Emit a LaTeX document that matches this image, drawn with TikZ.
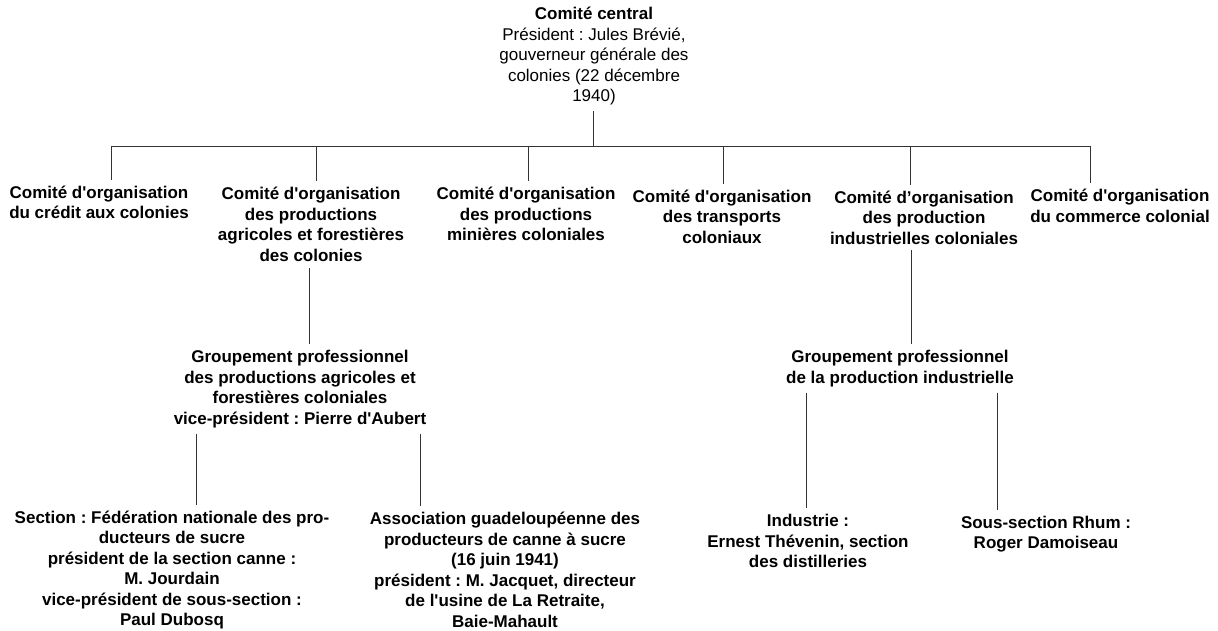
\documentclass[tikz,border=0pt]{standalone}
\usepackage{fontspec}
\setmainfont{Liberation Sans}[Ligatures=TeXOff]
\frenchspacing
\usetikzlibrary{positioning}
\tikzset{x=1pt, y=-1pt, % one unit is one pixel of the chart
every node/.style={ % Sets the properties for each text block
align=center,
inner sep=0pt,
outer sep=6pt,
font=\bfseries\fontsize{17}{20.5}\selectfont},
link/.style={ % Sets the properties for each connector
draw, black!80, line width=0.8pt}}

\begin{document}
\begin{tikzpicture}
    \useasboundingbox (0,0) rectangle (1218,631);

    \node[font=\mdseries\fontsize{17}{20.5}\selectfont] (cc) at (594,56.5) {\textbf{Comité central}\\Président : Jules Brévié,\\gouverneur générale des\\colonies (22 décembre\\1940)};

    \node (credit) at (99,202.5) {Comité d'organisation\\du crédit aux colonies};
    \node (agri) at (311,224.5) {Comité d'organisation\\des productions\\agricoles et forestières\\des colonies};
    \node (mines) at (526,214) {Comité d'organisation\\des productions\\minières coloniales};
    \node (transp) at (722,216.5) {Comité d'organisation\\des transports\\coloniaux};
    \node (indus) at (924,217.5) {Comité d’organisation\\des production\\industrielles coloniales};
    \node (comm) at (1120,206) {Comité d'organisation\\du commerce colonial};

    \node (gagri) at (300,389) {Groupement professionnel\\des productions agricoles et\\forestières coloniales\\vice-président : Pierre d'Aubert};
    \node (gind) at (900,368.5) {Groupement professionnel\\de la production industrielle};

    \node (sucre) at (172,570) {Section : Fédération nationale des pro-\\ducteurs de sucre\\président de la section canne :\\M. Jourdain\\vice-président de sous-section :\\Paul Dubosq};
    \node (assoc) at (505,570) {Association guadeloupéenne des\\producteurs de canne à sucre\\(16 juin 1941)\\président : M. Jacquet, directeur\\de l'usine de La Retraite,\\Baie-Mahault};
    \node (distil) at (808,541) {Industrie :\\Ernest Thévenin, section\\des distilleries};
    \node (rhum) at (1046,534) {Sous-section Rhum :\\Roger Damoiseau};

    % bus under the central committee
    \coordinate (bus) at (593,146);
    \draw[link] (cc.south -| bus) -- (bus);
    \draw[link] (111,0 |- bus) -- (1090,0 |- bus);
    \foreach \x/\n in {111/credit, 316/agri, 528/mines, 723/transp, 910/indus, 1090/comm}
        \draw[link] (\x,0 |- bus) -- (\x,0 |- \n.north);

    \draw[link] (agri.south -| 309,0) -- (gagri.north -| 309,0);
    \draw[link] (indus.south -| 911,0) -- (gind.north -| 911,0);

    \draw[link] (gagri.south -| 196,0) -- (sucre.north -| 196,0);
    \draw[link] (gagri.south -| 420,0) -- (assoc.north -| 420,0);
    \draw[link] (gind.south -| 806,0) -- (distil.north -| 806,0);
    \draw[link] (gind.south -| 997,0) -- (rhum.north -| 997,0);

\end{tikzpicture}
\end{document}
